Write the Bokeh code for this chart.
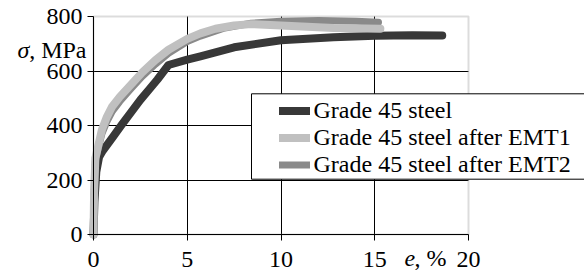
from bokeh.plotting import figure
from bokeh.models import Range1d, FixedTicker, Legend, LegendItem, Label, BoxAnnotation
from bokeh.embed import file_html
from bokeh.resources import INLINE

# ---- data ----
steel_x = [0, 0.05, 0.15, 0.3, 0.5, 1.0, 1.5, 2.0, 2.5, 3.0, 3.4, 4.0, 5.0, 5.7, 7.5, 10.0, 12.8, 15.0, 17.0, 18.6]
steel_y = [0, 120, 230, 285, 308, 355, 402, 448, 494, 535, 568, 622, 642, 654, 687, 713, 724, 729, 731, 730]

emt1_x = [0, 0.03, 0.1, 0.25, 0.45, 0.7, 1.0, 1.4, 2.0, 2.6, 3.3, 4.0, 5.0, 5.7, 6.5, 7.5, 8.4, 10.0, 12.8, 15.3]
emt1_y = [0, 150, 280, 325, 385, 430, 470, 505, 550, 595, 640, 678, 718, 738, 755, 767, 772, 767, 758, 755]

emt2_x = [0, 0.03, 0.1, 0.25, 0.45, 0.7, 1.0, 1.4, 2.0, 2.6, 3.3, 4.0, 5.0, 5.7, 7.0, 8.4, 10.0, 12.0, 14.0, 15.2]
emt2_y = [0, 150, 270, 315, 370, 412, 452, 488, 535, 580, 625, 665, 708, 728, 758, 775, 783, 785, 783, 779]

series_names = ["Grade 45 steel", "Grade 45 steel after EMT1", "Grade 45 steel after EMT2"]
series_colors = ["#383838", "#c0c0c0", "#8a8a8a"]

x_ticks = [0, 5, 10, 15, 20]
y_ticks = [0, 200, 400, 600, 800]
x_grid = [5, 10, 15]
y_grid = [200, 400, 600]
X_MIN, X_MAX = 0, 20
Y_MIN, Y_MAX = 0, 800

FONT = "'Liberation Serif', 'Times New Roman', Tinos, 'Nimbus Roman', FreeSerif, Times, 'DejaVu Serif', serif"
FS = "24px"

# ---- layout: the frame covers the whole canvas; axes are pinned at 0 ----
W, H = 584, 272
AX_LEFT, AX_RIGHT, AX_TOP, AX_BOTTOM = 93, 468, 16, 234   # pixel box of the plot area
px_x = (AX_RIGHT - AX_LEFT) / (X_MAX - X_MIN)
px_y = (AX_BOTTOM - AX_TOP) / (Y_MAX - Y_MIN)
x_range = Range1d(X_MIN - AX_LEFT / px_x, X_MAX + (W - AX_RIGHT) / px_x)
y_range = Range1d(Y_MIN - (H - AX_BOTTOM) / px_y, Y_MAX + AX_TOP / px_y)

p = figure(width=W, height=H, output_backend="svg", toolbar_location=None,
           x_range=x_range, y_range=y_range,
           min_border=0, min_border_left=0, min_border_right=0, min_border_top=0, min_border_bottom=0)
p.outline_line_color = None
p.background_fill_color = "white"
p.border_fill_color = "white"

for ax in (p.xaxis[0], p.yaxis[0]):
    ax.fixed_location = 0
    ax.axis_line_color = "black"
    ax.axis_line_width = 1
    ax.major_tick_line_color = "black"
    ax.major_tick_out = 6
    ax.major_tick_in = 0
    ax.minor_tick_line_color = None
    ax.major_label_text_font = FONT
    ax.major_label_text_font_size = FS
    ax.major_label_text_color = "black"

p.xaxis.ticker = FixedTicker(ticks=x_ticks)
p.yaxis.ticker = FixedTicker(ticks=y_ticks)
p.xaxis.bounds = (X_MIN, X_MAX)
p.yaxis.bounds = (Y_MIN, Y_MAX)
p.xaxis.major_label_standoff = 11
p.yaxis.major_label_standoff = 5

p.xgrid.ticker = FixedTicker(ticks=x_grid)
p.ygrid.ticker = FixedTicker(ticks=y_grid)
for g in (p.xgrid[0], p.ygrid[0]):
    g.grid_line_color = "black"
    g.grid_line_width = 1
p.ygrid.cross_bounds = (X_MIN, X_MAX)
p.xgrid.cross_bounds = (Y_MIN, Y_MAX)

# plot-area border (gray), under the curves
p.add_layout(BoxAnnotation(left=X_MIN, right=X_MAX, bottom=Y_MIN, top=Y_MAX,
                           fill_alpha=0, line_color="#8c8c8c", line_width=2, level="underlay"))

r0 = p.line(steel_x, steel_y, line_color=series_colors[0], line_width=8, line_cap="round", line_join="round")
r2 = p.line(emt2_x, emt2_y, line_color=series_colors[2], line_width=7, line_cap="round", line_join="round")
r1 = p.line(emt1_x, emt1_y, line_color=series_colors[1], line_width=8, line_cap="round", line_join="round")

# legend frame (white box that runs off the right edge)
p.add_layout(BoxAnnotation(left=251, right=700, bottom=H - 178.7, top=H - 93.3,
                           left_units="screen", right_units="screen", top_units="screen", bottom_units="screen",
                           fill_color="white", fill_alpha=1, line_color="black", line_width=1, line_alpha=1))

legend = Legend(items=[LegendItem(label=series_names[0], renderers=[r0]),
                       LegendItem(label=series_names[1], renderers=[r1]),
                       LegendItem(label=series_names[2], renderers=[r2])],
                location=(278.5, H - 178.2), padding=0, margin=0, spacing=0,
                glyph_width=31, glyph_height=27, label_height=27, label_standoff=4,
                label_text_font=FONT, label_text_font_size=FS, label_text_color="black",
                border_line_color=None, background_fill_alpha=0)
p.add_layout(legend)

p.add_layout(Label(x=17, y=H - 49, x_units="screen", y_units="screen", text="σ",
                   text_font=FONT, text_font_style="italic", text_font_size=FS,
                   text_align="left", text_baseline="middle", text_color="black"))
p.add_layout(Label(x=86, y=H - 49, x_units="screen", y_units="screen", text=", MPa",
                   text_font=FONT, text_font_size=FS,
                   text_align="right", text_baseline="middle", text_color="black"))
p.add_layout(Label(x=404, y=H - 257.5, x_units="screen", y_units="screen", text="e",
                   text_font=FONT, text_font_style="italic", text_font_size=FS,
                   text_align="left", text_baseline="middle", text_color="black"))
p.add_layout(Label(x=446, y=H - 257.5, x_units="screen", y_units="screen", text=", %",
                   text_font=FONT, text_font_size=FS,
                   text_align="right", text_baseline="middle", text_color="black"))

open("out.html", "w").write(file_html(p, INLINE))
